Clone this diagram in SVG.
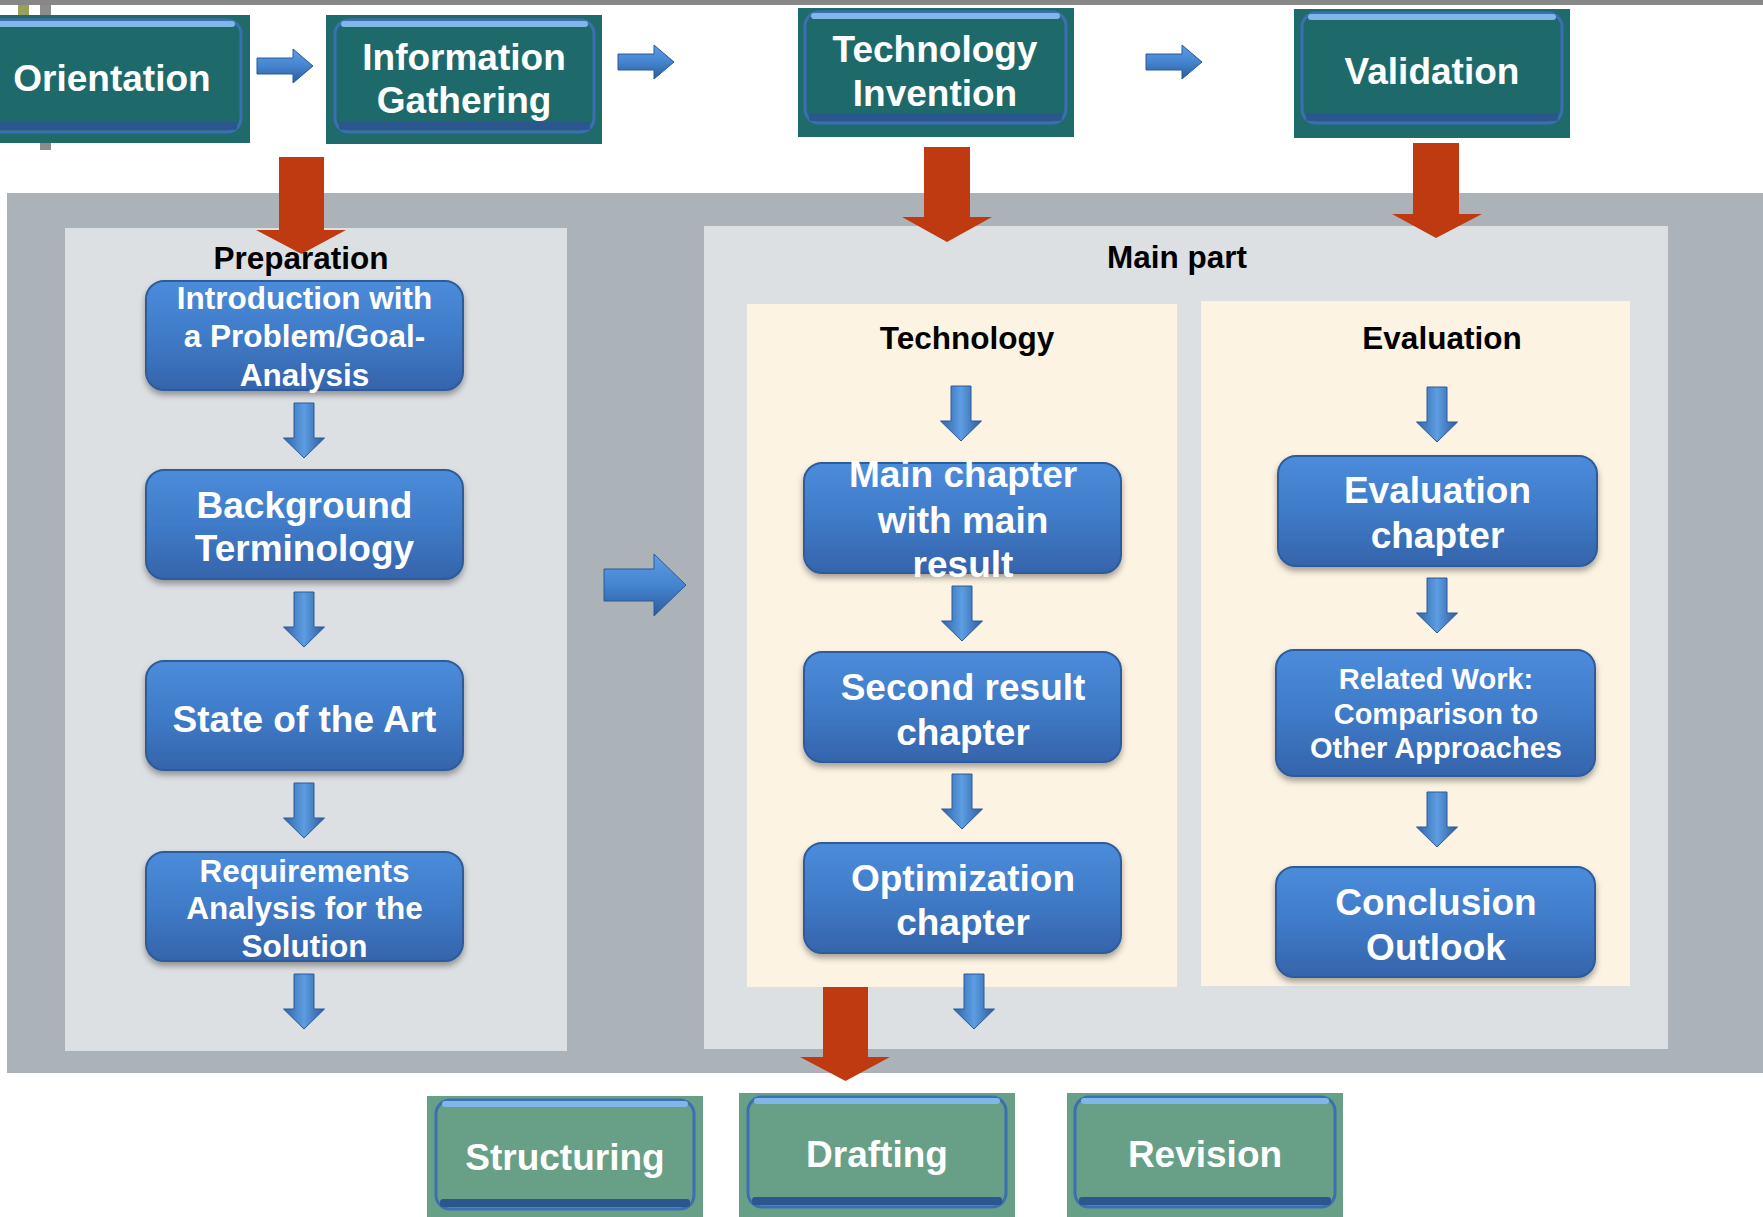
<svg xmlns="http://www.w3.org/2000/svg" xmlns:xlink="http://www.w3.org/1999/xlink" width="1763" height="1217" viewBox="0 0 1763 1217">
<style>
.t{font-family:"Liberation Sans",Arial,Helvetica,sans-serif;font-weight:bold;text-anchor:middle}
.w{fill:#ffffff}
.k{fill:#000000}
.f37{font-size:37px}
.f31{font-size:31.5px}
.f29{font-size:29px}
.tbg{fill:#1f6b6c}
.gbg{fill:#68a087}
.tin{fill:#1e6a6b;stroke:#3c6fb2;stroke-width:3}
.gin{fill:#68a087;stroke:#3c6fb2;stroke-width:3}
.hl{fill:#80b6e8}
.dk{fill:#2c568e}
.bb{fill:url(#gB);stroke:#2e5b98;stroke-width:2;filter:url(#sh)}
.red{fill:#bf3a10}
.da{fill:url(#gA);stroke:#2a5a98;stroke-width:1}
.ra{fill:url(#gR);stroke:#2a5a98;stroke-width:1}
</style>
<defs>
<linearGradient id="gB" x1="0" y1="0" x2="0" y2="1">
<stop offset="0" stop-color="#4b8cdb"/>
<stop offset="0.5" stop-color="#3f7bc8"/>
<stop offset="1" stop-color="#3564ab"/>
</linearGradient>
<linearGradient id="gA" x1="0" y1="0" x2="1" y2="0">
<stop offset="0" stop-color="#2f64a8"/>
<stop offset="0.5" stop-color="#5d9de2"/>
<stop offset="1" stop-color="#2c5c9c"/>
</linearGradient>
<linearGradient id="gR" x1="0" y1="0" x2="0" y2="1">
<stop offset="0" stop-color="#5d9de2"/>
<stop offset="0.5" stop-color="#4584cf"/>
<stop offset="1" stop-color="#2c5c9c"/>
</linearGradient>
<filter id="sh" x="-10%" y="-10%" width="120%" height="130%">
<feDropShadow dx="0" dy="4" stdDeviation="3" flood-color="#000" flood-opacity="0.35"/>
</filter>
<path id="darr" d="M-10,0 H10 V35 H20.5 L0,55 L-20.5,35 H-10 Z"/>
<path id="rarr" d="M0,-8 H36 V-17 L56,0 L36,17 V8 H0 Z"/>
</defs>

<rect x="0" y="0" width="1763" height="1217" fill="#ffffff"/>
<rect x="0" y="0" width="1763" height="5" fill="#878787"/>
<rect x="18" y="5" width="11" height="10" fill="#9aa05a"/>
<rect x="40" y="5" width="11" height="10" fill="#8c8c8c"/>
<rect x="40" y="143" width="11" height="7" fill="#8c8c8c"/>

<g id="backdrop">
<rect x="7" y="193" width="1756" height="880" fill="#abb2b8"/>
<rect x="65" y="228" width="502" height="823" fill="#dde0e3"/>
<rect x="704" y="226" width="964" height="823" fill="#dde0e3"/>
<rect x="747" y="304" width="430" height="683" fill="#fdf3e3"/>
<rect x="1201" y="301" width="429" height="685" fill="#fdf3e3"/>
</g>

<g id="connectors">
<use xlink:href="#rarr" class="ra" x="257" y="66"/>
<use xlink:href="#rarr" class="ra" x="618" y="62"/>
<use xlink:href="#rarr" class="ra" x="1146" y="62"/>
<path class="ra" d="M604,569 H654 V554 L686,585 L654,616 V601 H604 Z"/>
<polygon class="red" points="279,157 324,157 324,230 346,230 301.5,254 256,230 279,230"/>
<polygon class="red" points="924,147 970,147 970,217 992,217 947,242 902,217 924,217"/>
<polygon class="red" points="1413,143 1459,143 1459,214 1482,214 1436,238 1392,214 1413,214"/>
<polygon class="red" points="823,987 868,987 868,1057 890,1057 845.5,1081 800,1057 823,1057"/>
<use xlink:href="#darr" class="da" x="304" y="403"/>
<use xlink:href="#darr" class="da" x="304" y="592"/>
<use xlink:href="#darr" class="da" x="304" y="783"/>
<use xlink:href="#darr" class="da" x="304" y="974"/>
<use xlink:href="#darr" class="da" x="961" y="386"/>
<use xlink:href="#darr" class="da" x="962" y="586"/>
<use xlink:href="#darr" class="da" x="962" y="774"/>
<use xlink:href="#darr" class="da" x="974" y="974"/>
<use xlink:href="#darr" class="da" x="1437" y="387"/>
<use xlink:href="#darr" class="da" x="1437" y="578"/>
<use xlink:href="#darr" class="da" x="1437" y="792"/>
</g>

<g id="headers">
<text class="t k f31" x="301" y="269">Preparation</text>
<text class="t k f31" x="1177" y="268">Main part</text>
<text class="t k f31" x="967" y="349">Technology</text>
<text class="t k f31" x="1442" y="349">Evaluation</text>
</g>

<g id="orientation">
<rect class="tbg" x="0" y="15" width="250" height="128"/>
<rect class="tin" x="-14" y="20" width="255" height="112" rx="14"/>
<rect class="hl" x="-8" y="21" width="243" height="6" rx="3"/>
<rect class="dk" x="-10" y="122" width="247" height="8" rx="3"/>
<text class="t w f37" x="112" y="91">Orientation</text>
</g>
<g id="information-gathering">
<rect class="tbg" x="326" y="15" width="276" height="129"/>
<rect class="tin" x="335" y="20" width="259" height="112" rx="14"/>
<rect class="hl" x="341" y="21" width="247" height="6" rx="3"/>
<rect class="dk" x="339" y="122" width="251" height="8" rx="3"/>
<text class="t w f37" x="464" y="70">Information</text>
<text class="t w f37" x="464" y="113">Gathering</text>
</g>
<g id="technology-invention">
<rect class="tbg" x="798" y="8" width="276" height="129"/>
<rect class="tin" x="805" y="12" width="261" height="111" rx="14"/>
<rect class="hl" x="811" y="13" width="249" height="6" rx="3"/>
<rect class="dk" x="809" y="113" width="253" height="8" rx="3"/>
<text class="t w f37" x="935" y="62">Technology</text>
<text class="t w f37" x="935" y="106">Invention</text>
</g>
<g id="validation">
<rect class="tbg" x="1294" y="9" width="276" height="129"/>
<rect class="tin" x="1302" y="13" width="260" height="110" rx="14"/>
<rect class="hl" x="1308" y="14" width="248" height="6" rx="3"/>
<rect class="dk" x="1306" y="113" width="252" height="8" rx="3"/>
<text class="t w f37" x="1432" y="84">Validation</text>
</g>

<g id="intro">
<rect class="bb" x="146" y="281" width="317" height="109" rx="18"/>
<text class="t w f31" x="304.5" y="309">Introduction with</text>
<text class="t w f31" x="304.5" y="347">a Problem/Goal-</text>
<text class="t w f31" x="304.5" y="386">Analysis</text>
</g>
<g id="background">
<rect class="bb" x="146" y="470" width="317" height="109" rx="18"/>
<text class="t w f37" x="304.5" y="518">Background</text>
<text class="t w f37" x="304.5" y="561">Terminology</text>
</g>
<g id="state-of-the-art">
<rect class="bb" x="146" y="661" width="317" height="109" rx="18"/>
<text class="t w f37" x="304.5" y="732">State of the Art</text>
</g>
<g id="requirements">
<rect class="bb" x="146" y="852" width="317" height="109" rx="18"/>
<text class="t w f31" x="304.5" y="882">Requirements</text>
<text class="t w f31" x="304.5" y="919">Analysis for the</text>
<text class="t w f31" x="304.5" y="957">Solution</text>
</g>

<g id="main-chapter">
<rect class="bb" x="804" y="463" width="317" height="110" rx="18"/>
<text class="t w f37" x="963" y="487">Main chapter</text>
<text class="t w f37" x="963" y="533">with main</text>
<text class="t w f37" x="963" y="577">result</text>
</g>
<g id="second-result">
<rect class="bb" x="804" y="652" width="317" height="110" rx="18"/>
<text class="t w f37" x="963" y="700">Second result</text>
<text class="t w f37" x="963" y="745">chapter</text>
</g>
<g id="optimization">
<rect class="bb" x="804" y="843" width="317" height="110" rx="18"/>
<text class="t w f37" x="963" y="891">Optimization</text>
<text class="t w f37" x="963" y="935">chapter</text>
</g>

<g id="evaluation-chapter">
<rect class="bb" x="1278" y="456" width="319" height="110" rx="18"/>
<text class="t w f37" x="1437.5" y="503">Evaluation</text>
<text class="t w f37" x="1437.5" y="548">chapter</text>
</g>
<g id="related-work">
<rect class="bb" x="1276" y="650" width="319" height="126" rx="18"/>
<text class="t w f29" x="1436" y="689">Related Work:</text>
<text class="t w f29" x="1436" y="724">Comparison to</text>
<text class="t w f29" x="1436" y="758">Other Approaches</text>
</g>
<g id="conclusion">
<rect class="bb" x="1276" y="867" width="319" height="110" rx="18"/>
<text class="t w f37" x="1436" y="915">Conclusion</text>
<text class="t w f37" x="1436" y="960">Outlook</text>
</g>

<g id="structuring">
<rect class="gbg" x="427" y="1096" width="276" height="121"/>
<rect class="gin" x="436" y="1100" width="258" height="109" rx="14"/>
<rect class="hl" x="442" y="1101" width="246" height="6" rx="3"/>
<rect class="dk" x="440" y="1199" width="250" height="8" rx="3"/>
<text class="t w f37" x="565" y="1170">Structuring</text>
</g>
<g id="drafting">
<rect class="gbg" x="739" y="1093" width="276" height="124"/>
<rect class="gin" x="748" y="1097" width="258" height="110" rx="14"/>
<rect class="hl" x="754" y="1098" width="246" height="6" rx="3"/>
<rect class="dk" x="752" y="1197" width="250" height="8" rx="3"/>
<text class="t w f37" x="877" y="1167">Drafting</text>
</g>
<g id="revision">
<rect class="gbg" x="1067" y="1093" width="276" height="124"/>
<rect class="gin" x="1075" y="1097" width="260" height="110" rx="14"/>
<rect class="hl" x="1081" y="1098" width="248" height="6" rx="3"/>
<rect class="dk" x="1079" y="1197" width="252" height="8" rx="3"/>
<text class="t w f37" x="1205" y="1167">Revision</text>
</g>
</svg>
